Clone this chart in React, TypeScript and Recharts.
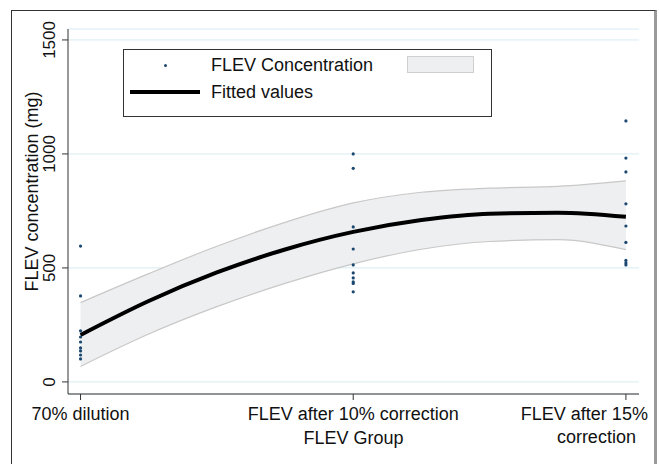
import React from "react";
import {
  ComposedChart,
  Area,
  Line,
  Scatter,
  XAxis,
  YAxis,
  CartesianGrid,
  Legend,
} from "recharts";

const groups = ["70% dilution", "FLEV after 10% correction", "FLEV after 15% correction"];
const yTicks = [0, 500, 1000, 1500];

// observed concentrations per group (mg)
const dilution70 = [596, 377, 224, 197, 175, 149, 136, 118, 101];
const after10 = [1000, 937, 680, 583, 513, 478, 456, 439, 432, 395];
const after15 = [1145, 982, 921, 781, 684, 612, 533, 522, 513];

// quadratic fit with confidence band
const fitX = [0, 0.25, 0.5, 0.75, 1, 1.25, 1.5, 1.75, 2];
const fitted = [206, 355, 480, 581, 658, 710, 738, 742, 724];
const ciLow = [68, 210, 330, 432, 518, 582, 616, 624, 580];
const ciHigh = [348, 475, 595, 700, 785, 832, 850, 858, 882];

const FONT = "Arial, 'Liberation Sans', sans-serif";
const DOT = "#1a476f";

const points = [dilution70, after10, after15].flatMap((vals, gi) =>
  vals.map((v) => ({ x: gi, y: v }))
);
const curve = fitX.map((x, i) => ({ x, fit: fitted[i], band: [ciLow[i], ciHigh[i]] }));

const XTick = (props: any) => {
  const { x, y, payload } = props;
  const label = groups[payload.value];
  if (payload.value === 2) {
    return (
      <g fontFamily={FONT} fontSize={18} fill="#111">
        <text x={x + 22} y={y + 18} textAnchor="end">FLEV after 15%</text>
        <text x={x + 10} y={y + 41} textAnchor="end">correction</text>
      </g>
    );
  }
  return (
    <text x={x} y={y + 18} textAnchor="middle" fontFamily={FONT} fontSize={18} fill="#111">
      {label}
    </text>
  );
};

const YTick = (props: any) => {
  const { y, payload } = props;
  const bx = 55;
  return (
    <text
      x={bx}
      y={y}
      transform={`rotate(-90 ${bx} ${y})`}
      textAnchor="middle"
      fontFamily={FONT}
      fontSize={17}
      fill="#111"
    >
      {payload.value}
    </text>
  );
};

const YTitle = (props: any) => {
  const { viewBox } = props;
  const bx = 38;
  const cy = viewBox.y + viewBox.height / 2 - 20;
  return (
    <text
      x={bx}
      y={cy}
      transform={`rotate(-90 ${bx} ${cy})`}
      textAnchor="middle"
      fontFamily={FONT}
      fontSize={18}
      fill="#111"
    >
      FLEV concentration (mg)
    </text>
  );
};

const XTitle = (props: any) => {
  const { viewBox } = props;
  return (
    <text
      x={viewBox.x + viewBox.width / 2}
      y={viewBox.y + 50}
      textAnchor="middle"
      fontFamily={FONT}
      fontSize={18}
      fill="#111"
    >
      FLEV Group
    </text>
  );
};

const LegendBox = () => (
  <div
    style={{
      position: "relative",
      width: 369,
      height: 68,
      boxSizing: "border-box",
      border: "1.5px solid #333",
      background: "#fff",
      fontFamily: FONT,
      fontSize: 18,
      color: "#111",
    }}
  >
    <div style={{ position: "absolute", left: 40, top: 14, width: 3, height: 3, borderRadius: 2, background: DOT }} />
    <div style={{ position: "absolute", left: 87, top: 4, lineHeight: "22px" }}>FLEV Concentration</div>
    <div
      style={{
        position: "absolute",
        left: 283,
        top: 6,
        width: 67,
        height: 17,
        boxSizing: "border-box",
        background: "#eeeff0",
        border: "1px solid #cfcfcf",
      }}
    />
    <div style={{ position: "absolute", left: 6, top: 40, width: 70, height: 4, background: "#000" }} />
    <div style={{ position: "absolute", left: 87, top: 31, lineHeight: "22px" }}>Fitted values</div>
  </div>
);

export default function App() {
  return (
    <div style={{ position: "absolute", left: 0, top: 0, width: 659, height: 464, background: "#fff" }}>
      <div
        style={{
          position: "absolute",
          left: 11,
          top: 10,
          width: 646,
          height: 454,
          boxSizing: "border-box",
          borderLeft: "1.5px solid #333",
          borderTop: "1.5px solid #333",
          borderRight: "3px solid #9a9a9a",
        }}
      />
      <ComposedChart
        width={659}
        height={464}
        data={curve}
        margin={{ top: 29, right: 20, bottom: 0, left: 0 }}
        style={{ position: "absolute", left: 0, top: 0 }}
      >
        <CartesianGrid horizontal vertical={false} stroke="#d8ebf3" strokeWidth={1} />
        <XAxis
          dataKey="x"
          type="number"
          domain={[-0.046, 2.048]}
          ticks={[0, 1, 2]}
          tick={<XTick />}
          tickSize={6}
          height={70}
          stroke="#333"
          interval={0}
          allowDataOverflow
          label={<XTitle />}
        />
        <YAxis
          type="number"
          domain={[-53, 1548]}
          ticks={yTicks}
          tick={<YTick />}
          tickSize={6}
          width={68}
          stroke="#333"
          interval={0}
          allowDataOverflow
          label={<YTitle />}
        />
        <Area
          dataKey="band"
          type="monotone"
          fill="#eeeff0"
          fillOpacity={1}
          stroke="#c8c8c8"
          strokeWidth={1.2}
          isAnimationActive={false}
          legendType="none"
        />
        <Line
          dataKey="fit"
          type="monotone"
          stroke="#000"
          strokeWidth={4}
          dot={false}
          isAnimationActive={false}
        />
        <Scatter
          data={points}
          dataKey="y"
          fill={DOT}
          isAnimationActive={false}
          shape={(p: any) => <circle cx={p.cx} cy={p.cy} r={1.6} fill={DOT} />}
        />
        <Legend
          layout="horizontal"
          verticalAlign="middle"
          align="center"
          content={<LegendBox />}
          wrapperStyle={{ left: 123, top: 49, width: 369, height: 68 }}
        />
      </ComposedChart>
    </div>
  );
}
